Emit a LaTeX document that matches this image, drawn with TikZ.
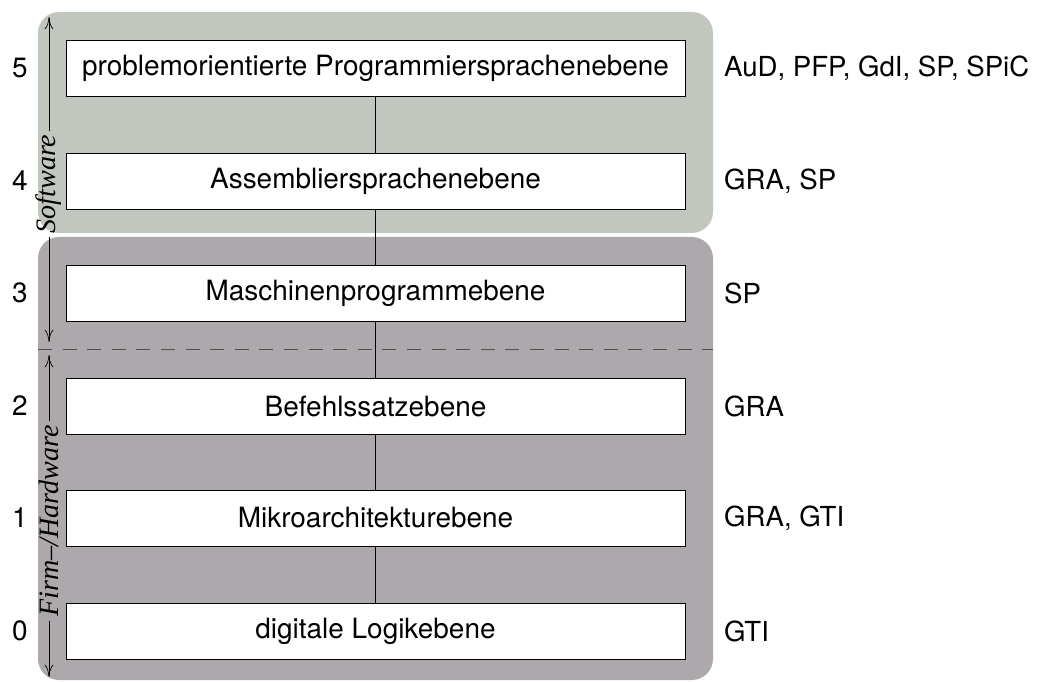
\documentclass[tikz,border=0pt]{standalone}
\usepackage{fontspec}
\setmainfont{TeX Gyre Heros}
\newfontfamily\labelserif{Liberation Serif}
\usepackage{tikz}
\usetikzlibrary{arrows.meta}

\definecolor{swgreen}{RGB}{193,199,191}
\definecolor{hwgray}{RGB}{173,168,171}
\definecolor{dashgray}{RGB}{80,80,80}

\tikzset{
  level/.style={draw, fill=white, minimum width=12.38cm, minimum height=1.12cm, inner sep=0pt, font=\fontsize{15.9}{19}\selectfont},
  levelnum/.style={font=\fontsize{15.9}{19}\selectfont},
  course/.style={anchor=west, font=\fontsize{15.7}{19}\selectfont},
  sidelabel/.style={rotate=90, inner sep=2pt, font=\fontsize{16}{19}\selectfont\labelserif\itshape},
  spanarrow/.style={-{To[length=7pt,width=5pt]}}
}

\begin{document}
\begin{tikzpicture}[x=0.02cm, y=-0.02cm]
    \useasboundingbox (0,0) rectangle (1039,682);

    % Background regions
    \fill[swgreen, rounded corners=12] (38,12) rectangle (713,233);
    \fill[hwgray, rounded corners=12] (38,237) rectangle (713,680);

    % Separator between software and firm-/hardware
    \draw[dashed, dashgray, dash pattern=on 8 off 6] (38,349) -- (713,349);

    % Levels
    \node[level] (l5) at (375.5,68.5) {problemorientierte Programmiersprachenebene};
    \node[level] (l4) at (375.5,181) {Assembliersprachenebene};
    \node[level] (l3) at (375.5,293) {Maschinenprogrammebene};
    \node[level] (l2) at (375.5,406) {Befehlssatzebene};
    \node[level] (l1) at (375.5,518) {Mikroarchitekturebene};
    \node[level] (l0) at (375.5,631) {digitale Logikebene};

    % Connections between levels
    \draw (l5) -- (l4);
    \draw (l4) -- (l3);
    \draw (l3) -- (l2);
    \draw (l2) -- (l1);
    \draw (l1) -- (l0);

    % Level numbers
    \node[levelnum] (n5) at (20,68.5) {5};
    \node[levelnum] (n4) at (20,181) {4};
    \node[levelnum] (n3) at (20,293) {3};
    \node[levelnum] (n2) at (20,406) {2};
    \node[levelnum] (n1) at (20,518) {1};
    \node[levelnum] (n0) at (20,631) {0};

    % Courses
    \node[course] (c5) at (718,68.5) {AuD, PFP, GdI, SP, SPiC};
    \node[course] (c4) at (718,181) {GRA, SP};
    \node[course] (c3) at (718,293) {SP};
    \node[course] (c2) at (718,406) {GRA};
    \node[course] (c1) at (718,518) {GRA, GTI};
    \node[course] (c0) at (718,631) {GTI};

    % Software / Firm-/Hardware ranges
    \coordinate (swtop) at (49,17);
    \coordinate (swbot) at (49,342);
    \coordinate (hwtop) at (49,355);
    \coordinate (hwbot) at (49,677);
    \node[sidelabel] (sw) at (49,184) {Software};
    \node[sidelabel] (hw) at (49,521) {Firm–/Hardware};
    \draw[spanarrow] (sw) -- (swtop);
    \draw[spanarrow] (sw) -- (swbot);
    \draw[spanarrow] (hw) -- (hwtop);
    \draw[spanarrow] (hw) -- (hwbot);

\end{tikzpicture}
\end{document}
